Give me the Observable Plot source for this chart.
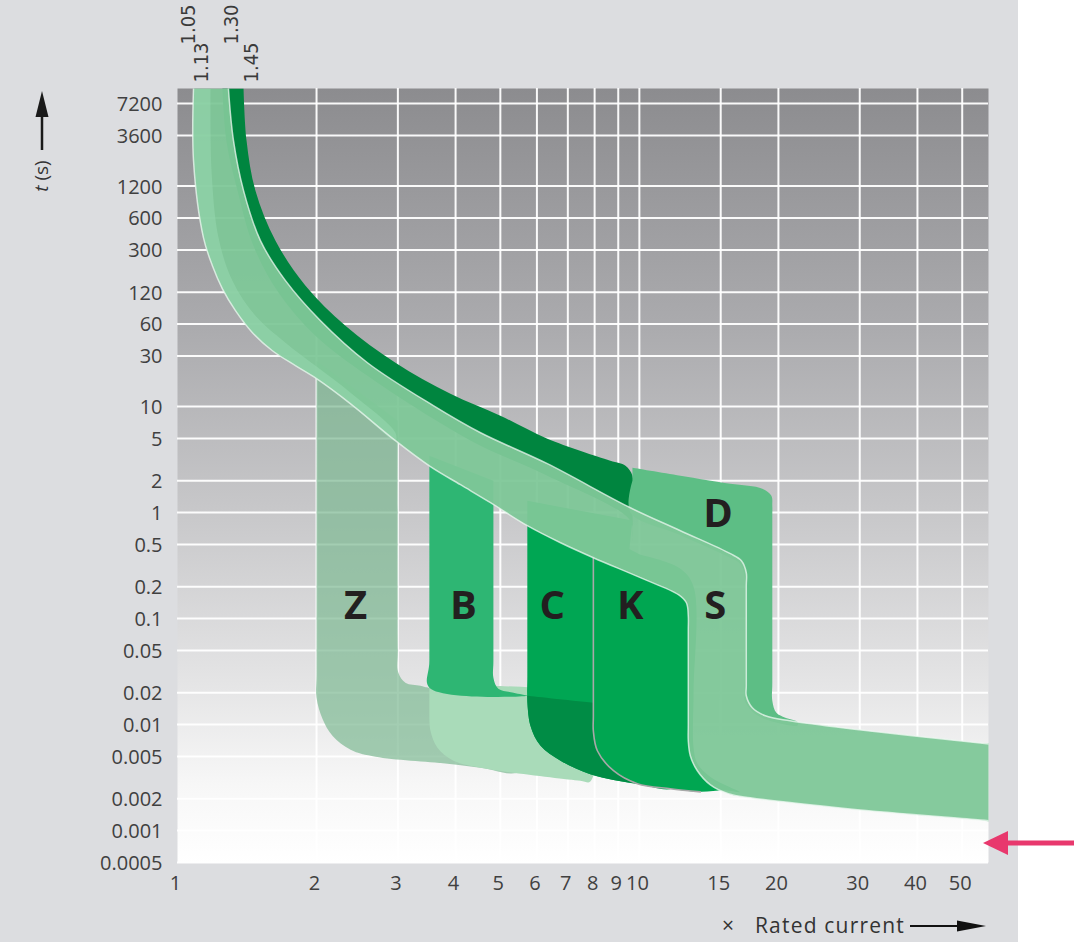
<!DOCTYPE html>
<html>
<head>
<meta charset="utf-8">
<script src="https://cdn.jsdelivr.net/npm/d3@7"></script>
<script src="https://cdn.jsdelivr.net/npm/@observablehq/plot@0.6"></script>
<style>
html, body { margin: 0; padding: 0; background: #ffffff; overflow: hidden; }
#wrap { position: relative; width: 1074px; height: 942px;
  background: linear-gradient(to right, #dcdde0 0px, #dcdde0 1018px, #ffffff 1018px); }
#wrap svg { position: absolute; left: 0; top: 0; }
</style>
</head>
<body>
<div id="wrap"></div>
<script>
// ---------- axis ticks ----------
const xTicks = [1, 2, 3, 4, 5, 6, 7, 8, 9, 10, 15, 20, 30, 40, 50];
const yTicks = [7200, 3600, 1200, 600, 300, 120, 60, 30, 10, 5, 2, 1, 0.5, 0.2, 0.1,
                0.05, 0.02, 0.01, 0.005, 0.002, 0.001, 0.0005];

// thermal limit labels at the top (multiples of rated current)
const limitsRow1 = [1.05, 1.30];
const limitsRow2 = [1.13, 1.45];

// ---------- characteristic bands: [I / In, t (s)] ----------
// S band (long light band: thermal part, magnetic drop 13-17 In, tail)
const sLower = [[1.083, 10000], [1.083, 2086], [1.138, 392], [1.19, 213], [1.251, 129],
  [1.335, 80.2], [1.453, 49.7], [1.605, 33.6], [1.800, 24.3], [2.0, 18.3], [2.37, 10.6],
  [2.964, 4.76], [3.529, 2.71], [4.10, 1.83], [4.76, 1.24], [5.72, 0.752], [6.75, 0.519],
  [7.95, 0.375], [10.05, 0.243], [12.15, 0.168], [12.64, 0.141], [12.76, 0.106],
  [12.76, 0.0767], [12.76, 0.00975], [12.76, 0.00705], [12.89, 0.00508], [13.35, 0.00367],
  [14.25, 0.0027], [15.58, 0.00223], [17.39, 0.00204], [28.6, 0.0016], [54.7, 0.00126],
  [62, 0.0012]];
const sUpper = [[62, 0.0063], [54.7, 0.0067], [28.6, 0.00914], [21.2, 0.01086], [18.74, 0.0121],
  [17.56, 0.01442], [17.04, 0.0187], [17.04, 0.0232], [17.04, 0.204], [17.04, 0.2705],
  [16.63, 0.351], [15.74, 0.409], [12.27, 0.674], [9.56, 1.11], [6.32, 2.89], [4.53, 5.66],
  [3.58, 10.2], [2.578, 25.9], [2.04, 64.5], [1.713, 154], [1.512, 367], [1.39, 1087],
  [1.322, 3220], [1.289, 10000]];
// lighter inner strip along the lower thermal limit
const sLightInner = [[1.179, 10000], [1.185, 1679], [1.227, 392], [1.315, 154], [1.475, 71.9],
  [1.713, 40], [2.0, 23.8], [2.37, 13.5], [2.964, 5.66]];
const sLightOuter = [[2.964, 4.76], [2.37, 10.6], [2.0, 18.3], [1.800, 24.3], [1.605, 33.6],
  [1.453, 49.7], [1.335, 80.2], [1.251, 129], [1.19, 213], [1.138, 392], [1.083, 2086],
  [1.083, 10000]];

// dark thermal band (upper thermal limit, ends at the C block)
const darkBand = [[1.39, 10000], [1.411, 3220], [1.475, 1087], [1.63, 367], [1.893, 138],
  [2.31, 57.9], [2.964, 25.9], [3.899, 13.2], [5.0, 8.2], [6.32, 4.97], [8.65, 3.08],
  [9.33, 2.77], [9.66, 2.23], [9.66, 1.5], [9.66, 0.542], [9.56, 0.838], [6.32, 2.23],
  [4.53, 4.27], [3.58, 7.67], [2.578, 19.5], [1.989, 46.6], [1.654, 119], [1.46, 329],
  [1.349, 1087], [1.276, 3220], [1.251, 10000]];

// Z: 2-3 In
const zBand = [[2.0, 27.1], [2.0, 20], [2.0, 0.03], [2.0, 0.0179], [2.06, 0.01135],
  [2.165, 0.00785], [2.37, 0.00579], [2.684, 0.00497], [3.84, 0.00427], [4.53, 0.00392],
  [5.53, 0.00367], [5.53, 0.0195], [3.494, 0.0223], [3.357, 0.0232], [3.115, 0.0248],
  [3.008, 0.0308], [3.0, 0.05], [3.0, 5], [3.0, 7.35]];

// B: 3-5 In (column and tail)
const bColumn = [[3.51, 3.44], [3.51, 2.5], [3.51, 0.04], [3.51, 0.0223], [5.72, 0.0187],
  [5.34, 0.0200], [4.95, 0.0218], [4.83, 0.0277], [4.83, 0.04], [4.83, 1.5], [4.83, 2.0]];
const bTail = [[3.51, 0.0223], [7.83, 0.0160], [7.83, 0.0029], [7.45, 0.00295], [4.53, 0.00392],
  [3.958, 0.00456], [3.654, 0.00605], [3.529, 0.00874], [3.51, 0.012]];

// C: 5-10 In (column and tail)
const cColumn = [[5.72, 1.29], [5.72, 1.0], [5.72, 0.03], [5.72, 0.0168], [5.81, 0.00975],
  [6.11, 0.0063], [6.75, 0.00456], [7.83, 0.0034], [8.79, 0.0030], [9.90, 0.00277],
  [12, 0.0026], [12, 0.02], [9.66, 0.05], [9.66, 0.84]];
const cTail = [[5.72, 0.0187], [7.95, 0.0161], [12, 0.014], [12, 0.0027], [9.90, 0.00277],
  [8.79, 0.0030], [7.83, 0.0034], [6.75, 0.00456], [6.11, 0.0063], [5.81, 0.00975],
  [5.72, 0.0168]];

// D: 10-20 In (visible part above and right of the S band)
const dBand = [[9.66, 2.65], [12.27, 2.23], [15.74, 1.87], [18.46, 1.68], [19.31, 1.44],
  [19.4, 1.16], [19.4, 0.9], [19.4, 0.025], [19.4, 0.0168], [19.8, 0.0129], [20.7, 0.0116],
  [22, 0.0106], [22, 0.0098], [18.74, 0.0112], [17.56, 0.0133], [16.9, 0.017], [16.9, 0.02],
  [16.9, 0.25], [16.5, 0.33], [15.6, 0.38], [12.2, 0.62], [9.56, 1.0], [9.66, 2.0]];

// K: 8-14 In (visible part left of and below the S band)
const kBand = [[7.95, 0.675], [7.95, 0.5], [7.95, 0.012], [7.95, 0.0087], [8.11, 0.00566],
  [8.79, 0.00367], [9.90, 0.00277], [11.67, 0.00248], [13.55, 0.00232], [15.35, 0.0024],
  [16.5, 0.0023], [15.58, 0.0026], [14.25, 0.0032], [13.35, 0.0043], [13.1, 0.006],
  [13.1, 0.02], [13.1, 0.2], [12.2, 0.3], [10.05, 0.4]];
const kEdge = [[7.95, 0.39], [7.95, 0.3], [7.95, 0.012], [7.95, 0.0087], [8.11, 0.00566],
  [8.79, 0.00367], [9.90, 0.00277], [11.67, 0.00248], [13.55, 0.00232]];

// curve type letters
const typeNames = ["Z", "B", "C", "K", "S", "D"];
const typeX = [2.43, 4.16, 6.48, 9.56, 14.6, 14.8];
const typeT = [0.132, 0.132, 0.132, 0.132, 0.132, 0.955];

// ---------- chart ----------
const sBand = sLower.concat(sUpper);
const sLight = sLightInner.concat(sLightOuter);
const letters = typeNames.map((n, i) => ({n, x: typeX[i], t: typeT[i]}));
const fillPoly = (data, color, extra = {}) =>
  Plot.line(data, {fill: color, stroke: "none", curve: "catmull-rom", ...extra});
const tickFont = "'Open Sans', sans-serif";
const narrowFont = "'Liberation Sans Narrow', 'DejaVu Sans Condensed', sans-serif";

const svg = Plot.plot({
  width: 1074,
  height: 942,
  marginLeft: 177,
  marginRight: 86,
  marginTop: 88,
  marginBottom: 80,
  style: {background: "transparent", fontFamily: tickFont, fontSize: "20px", color: "#404040"},
  x: {type: "log", domain: [1, 57], axis: null},
  y: {type: "log", domain: [0.0005, 10000], axis: null},
  marks: [
    Plot.frame({fill: "#cccccc", stroke: "none"}),
    Plot.ruleX(xTicks.slice(1), {stroke: "white", strokeWidth: 2, strokeOpacity: 0.95}),
    Plot.ruleY(yTicks, {stroke: "white", strokeWidth: 2, strokeOpacity: 0.95}),
    fillPoly(zBand, "#80ba94", {fillOpacity: 0.72}),
    fillPoly(bTail, "#a9dbb9"),
    fillPoly(bColumn, "#2eb673"),
    fillPoly(darkBand, "#00853f"),
    fillPoly(cColumn, "#00a653"),
    fillPoly(cTail, "#008c45"),
    fillPoly(dBand, "#5dbe85"),
    fillPoly(kBand, "#00a651"),
    Plot.line(kEdge, {stroke: "#a8a8a8", strokeWidth: 1.6, curve: "catmull-rom"}),
    fillPoly(sBand, "#7ec798", {fillOpacity: 0.95}),
    fillPoly(sLight, "#95d5ad", {fillOpacity: 0.6}),
    Plot.line(sLower, {stroke: "#eef8f1", strokeWidth: 1.5, strokeOpacity: 0.75, curve: "catmull-rom"}),
    Plot.line(sUpper, {stroke: "#eef8f1", strokeWidth: 1.5, strokeOpacity: 0.75, curve: "catmull-rom"}),
    Plot.text(letters, {x: "x", y: "t", text: "n", fontSize: 40, fontWeight: "bold", fill: "#231f20",
      fontFamily: tickFont}),
    // tick labels
    Plot.text(yTicks, {y: d => d, text: d => String(d), frameAnchor: "left", dx: -15, dy: 1,
      textAnchor: "end", lineAnchor: "middle", fontSize: 20, fill: "#404040", fontFamily: tickFont}),
    Plot.text(xTicks, {x: d => d, text: d => String(d), frameAnchor: "bottom", dx: -2, dy: 21,
      lineAnchor: "middle", fontSize: 20, fill: "#404040", fontFamily: tickFont}),
    // thermal limits
    Plot.text(limitsRow1, {x: d => d, text: d => d.toFixed(2), frameAnchor: "top", dx: -6, dy: -64,
      rotate: -90, fontSize: 20, fill: "#3a3a3a", fontFamily: narrowFont}),
    Plot.text(limitsRow2, {x: d => d, text: d => d.toFixed(2), frameAnchor: "top", dx: -8, dy: -26,
      rotate: -90, fontSize: 20, fill: "#3a3a3a", fontFamily: narrowFont})
  ]
});

document.getElementById("wrap").appendChild(svg);

// background gradient of the plotting area + clip of the bands to the frame
const s = d3.select(svg);
const defs = s.insert("defs", ":first-child");
const grad = defs.append("linearGradient")
  .attr("id", "plotbg").attr("x1", 0).attr("y1", 0).attr("x2", 0).attr("y2", 1);
[[0, "#8c8c8f"], [0.3, "#aaaaad"], [0.55, "#c8c8ca"], [0.75, "#e2e2e3"], [0.9, "#f7f7f7"], [1, "#ffffff"]]
  .forEach(([o, c]) => grad.append("stop").attr("offset", o).attr("stop-color", c));
let fr = svg.querySelector('[aria-label="frame"]');
if (fr) {
  const r = fr.tagName.toLowerCase() === "rect" ? fr : fr.querySelector("rect");
  if (r) {
    r.setAttribute("fill", "url(#plotbg)");
    const bb = r.getBBox();
    defs.append("clipPath").attr("id", "plotclip").append("rect")
      .attr("x", bb.x).attr("y", bb.y).attr("width", bb.width).attr("height", bb.height);
    svg.querySelectorAll('g[aria-label="line"]').forEach(g => g.setAttribute("clip-path", "url(#plotclip)"));
  }
}

// y axis title with arrow
s.append("line").attr("x1", 42).attr("y1", 150).attr("x2", 42).attr("y2", 112)
  .attr("stroke", "#1a1a1a").attr("stroke-width", 2.5);
s.append("path").attr("d", "M42,91 L35.5,117 L48.5,117 Z").attr("fill", "#1a1a1a");
const yt = s.append("text").attr("transform", "translate(48,176) rotate(-90)")
  .attr("text-anchor", "middle").attr("font-size", 19).attr("fill", "#333")
  .attr("font-family", tickFont);
yt.append("tspan").attr("font-style", "italic").text("t");
yt.append("tspan").text(" (s)");

// x axis title with arrow
s.append("text").attr("x", 728).attr("y", 933).attr("text-anchor", "middle")
  .attr("font-size", 21).attr("fill", "#333").attr("font-family", tickFont).text("×");
s.append("text").attr("x", 905).attr("y", 933).attr("text-anchor", "end")
  .attr("font-size", 21).attr("letter-spacing", "1.2px").attr("fill", "#333")
  .attr("font-family", tickFont).text("Rated current");
s.append("line").attr("x1", 910).attr("y1", 926).attr("x2", 962).attr("y2", 926)
  .attr("stroke", "#111").attr("stroke-width", 2);
s.append("path").attr("d", "M986,926 L957,920.5 L957,931.5 Z").attr("fill", "#111");

// pointer arrow on the right
s.append("line").attr("x1", 1004).attr("y1", 843).attr("x2", 1074).attr("y2", 843)
  .attr("stroke", "#e8386d").attr("stroke-width", 5);
s.append("path").attr("d", "M983,843 L1008,831 L1008,855 Z").attr("fill", "#e8386d");
</script>
</body>
</html>
